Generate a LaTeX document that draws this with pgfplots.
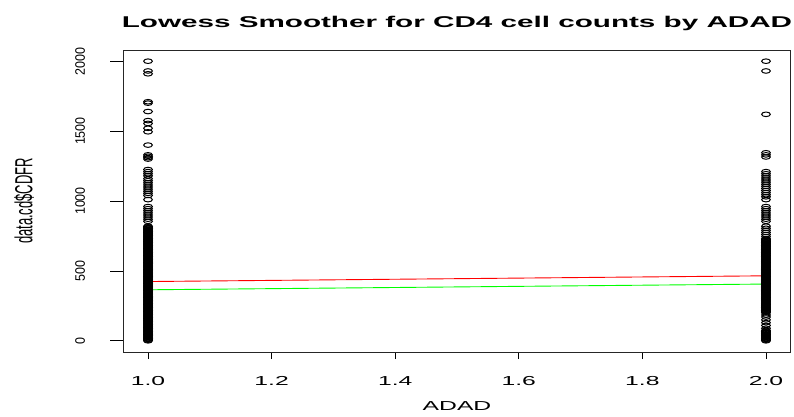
\documentclass[border=0pt]{standalone}
\usepackage{graphicx}
\usepackage{pgfplots}
\pgfplotsset{compat=1.18}
\usepackage{fontspec}
\setmainfont{Liberation Sans}

% horizontal text is stretched sideways like the rest of the figure
\newcommand{\hs}[1]{\scalebox{1.9}[1]{#1}}
\newcommand{\yl}[1]{\hs{\rotatebox{90}{#1}}}
\newcommand{\yt}[1]{\scalebox{1.1}[1]{\rotatebox{90}{#1}}}

\definecolor{lowessred}{RGB}{255,0,0}
\definecolor{lowessgreen}{RGB}{0,255,0}

\begin{document}
\begin{tikzpicture}[x=1pt,y=1pt]
\path[use as bounding box] (-123.3,-64) rectangle (670.7,352);
\begin{axis}[
  at={(0,0)}, anchor=south west,
  scale only axis, width=667.4pt, height=302pt,
  xmin=0.96, xmax=2.04, ymin=-80, ymax=2080,
  axis line style={black!85, line width=0.8pt},
  tick align=outside,
  xtick pos=bottom, ytick pos=left,
  major tick length=7pt,
  xtick style={black, line width=0.8pt},
  ytick style={black, line width=0.8pt, /pgfplots/major tick length=13pt},
  xtick={1,1.2,1.4,1.6,1.8,2},
  xticklabels={\hs{1.0},\hs{1.2},\hs{1.4},\hs{1.6},\hs{1.8},\hs{2.0}},
  ytick={0,500,1000,1500,2000},
  yticklabels={\yt{0},\yt{500},\yt{1000},\yt{1500},\yt{2000}},
  tick label style={font=\fontsize{13}{15}\selectfont, inner sep=0pt},
  xticklabel style={anchor=base, yshift=-26.5pt},
  yticklabel style={anchor=east, xshift=-31pt, font=\fontsize{12.5}{14}\selectfont},
  title={\hs{\bfseries Lowess Smoother for CD4 cell counts by ADAD}},
  every axis title/.style={at={(axis description cs:0.5,1)}, anchor=base,
    yshift=22.5pt, font=\fontsize{15.6}{18}\selectfont, inner sep=0pt},
  xlabel={\hs{ADAD}},
  every axis x label/.style={at={(axis description cs:0.5,0)}, anchor=base,
    yshift=-58pt, font=\fontsize{13}{15}\selectfont, inner sep=0pt},
  ylabel={\yl{data.cd\$CDFR}},
  every axis y label/.style={at={(axis description cs:0,0.5)}, anchor=center,
    xshift=-99.3pt, font=\fontsize{13}{15}\selectfont, inner sep=0pt},
  clip=false,
]
% CD4 counts, ADAD = 1
\addplot[only marks, mark=o, mark size=2.3pt,
  mark options={xscale=1.9, line width=1pt, black}] coordinates {
 (1,2000)(1,1930)(1,1910)(1,1710)(1,1700)(1,1640)(1,1575)(1,1555)(1,1520)(1,1495)
 (1,1400)(1,1330)(1,1320)(1,1310)(1,1300)
 (1,1225)(1,1210)(1,1195)(1,1180)(1,1160)(1,1145)(1,1130)(1,1115)(1,1100)(1,1085)
 (1,1070)(1,1055)(1,1040)(1,1010)
 (1,960)(1,945)(1,930)(1,915)(1,900)(1,885)(1,870)(1,855)
 (1,820)(1,815)(1,810)(1,805)(1,800)(1,795)(1,790)(1,785)(1,780)(1,775)
 (1,770)(1,765)(1,760)(1,755)(1,750)(1,745)(1,740)(1,735)(1,730)(1,725)
 (1,720)(1,715)(1,710)(1,705)(1,700)(1,695)(1,690)(1,685)(1,680)(1,675)
 (1,670)(1,665)(1,660)(1,655)(1,650)(1,645)(1,640)(1,635)(1,630)(1,625)
 (1,620)(1,615)(1,610)(1,605)(1,600)(1,595)(1,590)(1,585)(1,580)(1,575)
 (1,570)(1,565)(1,560)(1,555)(1,550)(1,545)(1,540)(1,535)(1,530)(1,525)
 (1,520)(1,515)(1,510)(1,505)(1,500)(1,495)(1,490)(1,485)(1,480)(1,475)
 (1,470)(1,465)(1,460)(1,455)(1,450)(1,445)(1,440)(1,435)(1,430)(1,425)
 (1,420)(1,415)(1,410)(1,405)(1,400)(1,395)(1,390)(1,385)(1,380)(1,375)
 (1,370)(1,365)(1,360)(1,355)(1,350)(1,345)(1,340)(1,335)(1,330)(1,325)
 (1,320)(1,315)(1,310)(1,305)(1,300)(1,295)(1,290)(1,285)(1,280)(1,275)
 (1,270)(1,265)(1,260)(1,255)(1,250)(1,245)(1,240)(1,235)(1,230)(1,225)
 (1,220)(1,215)(1,210)(1,205)(1,200)(1,195)(1,190)(1,185)(1,180)(1,175)
 (1,170)(1,165)(1,160)(1,155)(1,150)(1,145)(1,140)(1,135)(1,130)(1,125)
 (1,120)(1,115)(1,110)(1,105)(1,100)(1,95)(1,90)(1,85)(1,80)(1,75)
 (1,70)(1,65)(1,60)(1,55)(1,50)(1,45)(1,40)(1,35)(1,30)(1,25)
 (1,20)(1,15)(1,10)(1,5)(1,0)
};
% CD4 counts, ADAD = 2
\addplot[only marks, mark=o, mark size=2.3pt,
  mark options={xscale=1.9, line width=1pt, black}] coordinates {
 (2,2000)(2,1930)(2,1620)(2,1345)(2,1330)(2,1315)
 (2,1210)(2,1195)(2,1180)(2,1165)(2,1150)(2,1135)(2,1120)(2,1105)(2,1090)(2,1075)
 (2,1060)(2,1045)(2,1030)(2,1010)
 (2,960)(2,945)(2,930)(2,915)(2,900)(2,885)(2,870)(2,855)
 (2,820)(2,805)(2,790)(2,775)(2,760)(2,745)
 (2,730)(2,725)(2,720)(2,715)(2,710)(2,705)(2,700)(2,695)(2,690)(2,685)
 (2,680)(2,675)(2,670)(2,665)(2,660)(2,655)(2,650)(2,645)(2,640)(2,635)
 (2,630)(2,625)(2,620)(2,615)(2,610)(2,605)(2,600)(2,595)(2,590)(2,585)
 (2,580)(2,575)(2,570)(2,565)(2,560)(2,555)(2,550)(2,545)(2,540)(2,535)
 (2,530)(2,525)(2,520)(2,515)(2,510)(2,505)(2,500)(2,495)(2,490)(2,485)
 (2,480)(2,475)(2,470)(2,465)(2,460)(2,455)(2,450)(2,445)(2,440)(2,435)
 (2,430)(2,425)(2,420)(2,415)(2,410)(2,405)(2,400)(2,395)(2,390)(2,385)
 (2,380)(2,375)(2,370)(2,365)(2,360)(2,355)(2,350)(2,345)(2,340)(2,335)
 (2,330)(2,325)(2,320)(2,315)(2,310)(2,305)(2,300)(2,295)(2,290)(2,285)
 (2,280)(2,275)(2,270)(2,265)(2,260)(2,255)(2,250)(2,245)(2,240)(2,235)
 (2,230)(2,225)(2,220)(2,215)(2,210)(2,205)(2,200)
 (2,185)(2,170)(2,150)(2,130)(2,110)(2,90)
 (2,75)(2,70)(2,65)(2,60)(2,55)(2,50)(2,45)(2,40)(2,35)(2,30)
 (2,25)(2,20)(2,15)(2,10)(2,5)(2,0)
};
% lowess fits
\addplot[lowessred, line width=0.9pt] coordinates {(1,424) (2,465)};
\addplot[lowessgreen, line width=0.9pt] coordinates {(1,365) (2,406)};
\end{axis}
\end{tikzpicture}
\end{document}
